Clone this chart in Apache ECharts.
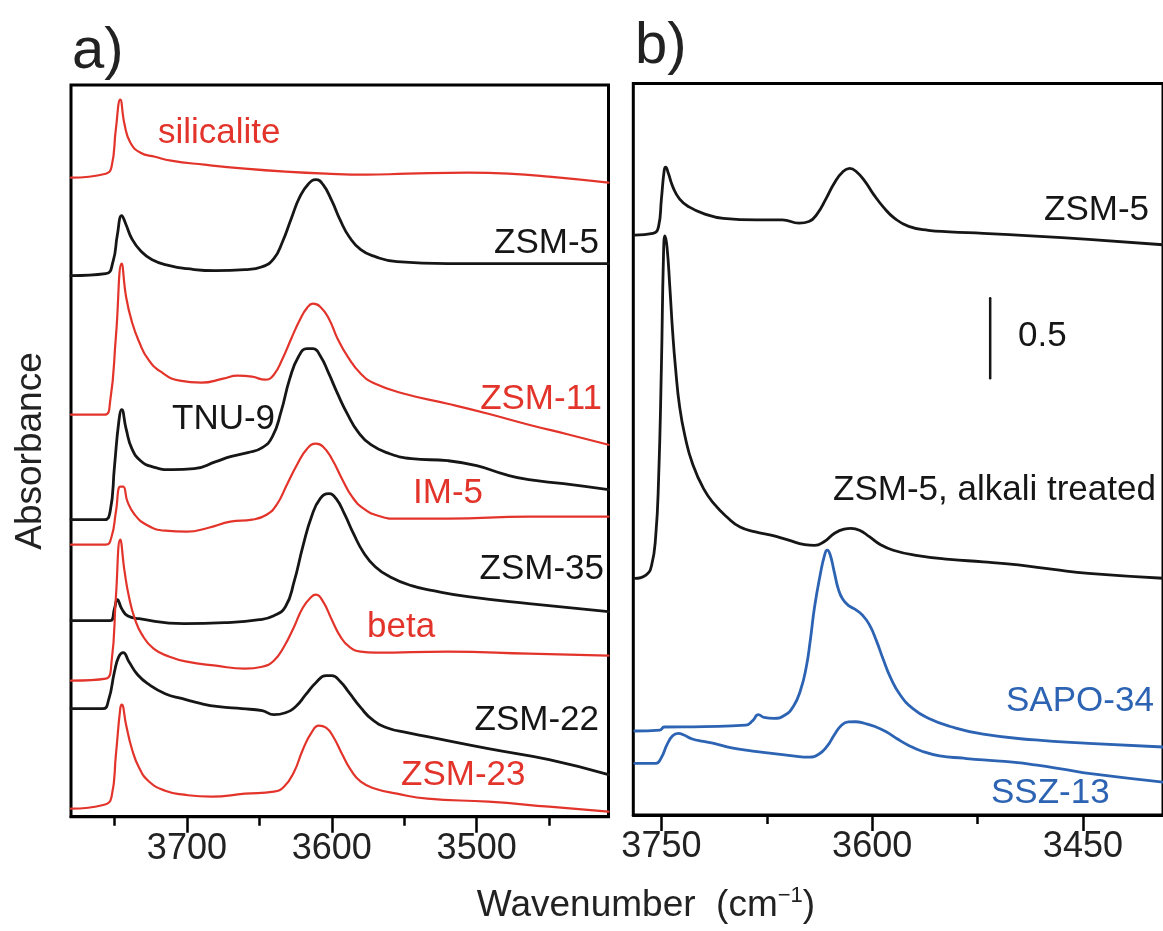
<!DOCTYPE html>
<html><head><meta charset="utf-8">
<script src="https://cdn.jsdelivr.net/npm/echarts@6/dist/echarts.min.js"></script>
<style>html,body{margin:0;padding:0;background:#fff}#c{width:1163px;height:931px}</style>
</head><body><div id="c"></div>
<script>
// ---------- Panel a) data: [wavenumber (cm-1), offset absorbance (a.u.)] ----------
const silicalite = [[3780,6.39],[3756,6.43],[3752,6.50],[3749,6.88],[3746,7.17],[3743,6.92],[3739,6.74],[3732,6.64],[3722,6.60],[3711,6.56],[3688,6.52],[3660,6.48],[3632,6.45],[3604,6.43],[3576,6.42],[3548,6.43],[3506,6.44],[3478,6.43],[3450,6.40],[3409,6.34]];
const zsm5a = [[3780,5.41],[3756,5.43],[3751,5.55],[3748,5.82],[3745,6.01],[3742,5.92],[3738,5.78],[3732,5.66],[3724,5.57],[3712,5.51],[3700,5.48],[3680,5.46],[3660,5.47],[3648,5.50],[3640,5.58],[3634,5.75],[3628,5.98],[3622,6.20],[3616,6.33],[3611,6.37],[3606,6.32],[3600,6.16],[3594,5.96],[3588,5.80],[3580,5.67],[3570,5.60],[3555,5.55],[3520,5.53],[3464,5.53],[3409,5.53]];
const zsm11 = [[3780,4.02],[3757,4.02],[3753,4.15],[3749,4.80],[3745,5.53],[3742,5.20],[3738,4.95],[3733,4.75],[3727,4.58],[3718,4.45],[3705,4.36],[3690,4.34],[3675,4.38],[3665,4.41],[3655,4.40],[3646,4.37],[3640,4.42],[3634,4.58],[3628,4.78],[3622,4.97],[3617,5.09],[3613,5.13],[3608,5.10],[3602,4.98],[3596,4.78],[3589,4.60],[3580,4.43],[3570,4.33],[3550,4.23],[3520,4.13],[3492,4.03],[3464,3.92],[3436,3.82],[3409,3.72]];
const tnu9 = [[3780,2.97],[3757,2.97],[3753,3.05],[3750,3.50],[3747,3.95],[3745,4.07],[3742,3.88],[3738,3.68],[3732,3.56],[3724,3.50],[3710,3.47],[3695,3.48],[3680,3.55],[3670,3.60],[3658,3.64],[3648,3.69],[3641,3.80],[3635,4.05],[3629,4.38],[3623,4.60],[3617,4.68],[3613,4.68],[3608,4.61],[3602,4.43],[3596,4.23],[3589,4.02],[3582,3.85],[3573,3.72],[3560,3.63],[3545,3.58],[3520,3.56],[3500,3.51],[3480,3.42],[3464,3.37],[3440,3.33],[3409,3.27]];
const im5 = [[3780,2.72],[3756,2.72],[3752,2.80],[3749,3.05],[3746,3.30],[3744,3.30],[3741,3.15],[3736,3.02],[3728,2.92],[3715,2.86],[3700,2.85],[3685,2.89],[3670,2.95],[3655,2.97],[3645,3.02],[3638,3.12],[3631,3.32],[3624,3.52],[3617,3.68],[3611,3.73],[3606,3.70],[3600,3.58],[3593,3.38],[3586,3.20],[3578,3.08],[3568,3.01],[3555,2.98],[3520,2.98],[3464,3.00],[3409,3.00]];
const zsm35 = [[3780,1.96],[3753,1.96],[3750,2.08],[3748,2.17],[3745,2.08],[3741,2.01],[3733,1.98],[3702,1.93],[3674,1.94],[3650,1.97],[3640,2.01],[3632,2.10],[3626,2.35],[3620,2.70],[3614,3.00],[3608,3.18],[3602,3.23],[3597,3.18],[3591,3.02],[3585,2.83],[3578,2.64],[3570,2.50],[3560,2.40],[3545,2.31],[3530,2.26],[3506,2.20],[3464,2.13],[3409,2.05]];
const beta = [[3780,1.36],[3756,1.38],[3752,1.55],[3749,2.20],[3746,2.77],[3743,2.45],[3740,2.20],[3736,1.98],[3731,1.82],[3723,1.68],[3712,1.60],[3700,1.55],[3680,1.51],[3660,1.48],[3648,1.50],[3640,1.56],[3633,1.70],[3626,1.90],[3620,2.09],[3614,2.20],[3611,2.22],[3606,2.15],[3600,1.97],[3594,1.80],[3588,1.70],[3580,1.65],[3570,1.64],[3520,1.65],[3464,1.63],[3409,1.61]];
const zsm22 = [[3780,1.08],[3758,1.08],[3754,1.17],[3750,1.45],[3747,1.60],[3744,1.64],[3740,1.55],[3734,1.42],[3726,1.32],[3715,1.23],[3703,1.18],[3690,1.13],[3678,1.10],[3662,1.08],[3648,1.06],[3640,1.02],[3632,1.04],[3625,1.10],[3618,1.22],[3611,1.34],[3604,1.41],[3600,1.41],[3594,1.35],[3588,1.24],[3580,1.09],[3572,0.97],[3562,0.89],[3548,0.84],[3534,0.80],[3492,0.68],[3450,0.57],[3409,0.42]];
const zsm23 = [[3780,0.08],[3757,0.12],[3752,0.20],[3749,0.62],[3746,1.08],[3745,1.12],[3742,0.92],[3738,0.68],[3733,0.49],[3726,0.35],[3715,0.26],[3702,0.22],[3683,0.20],[3660,0.23],[3640,0.25],[3633,0.30],[3626,0.45],[3620,0.67],[3614,0.84],[3609,0.91],[3604,0.89],[3599,0.80],[3593,0.63],[3587,0.47],[3580,0.35],[3570,0.28],[3555,0.23],[3534,0.18],[3492,0.15],[3450,0.10],[3409,0.05]];

// ---------- Panel b) data: [wavenumber (cm-1), offset absorbance] ----------
const zsm5b = [[3769,3.625],[3756,3.636],[3752,3.68],[3750,3.85],[3748,4.03],[3747,4.05],[3745,4.01],[3742,3.93],[3737,3.85],[3730,3.80],[3720,3.76],[3706,3.73],[3682,3.72],[3664,3.72],[3652,3.70],[3645,3.71],[3639,3.76],[3633,3.85],[3627,3.95],[3621,4.02],[3616,4.042],[3611,4.02],[3605,3.96],[3599,3.88],[3592,3.80],[3584,3.73],[3574,3.68],[3560,3.655],[3545,3.646],[3521,3.636],[3484,3.619],[3446,3.598],[3393,3.565]];
const zsm5alkali = [[3769,1.479],[3761,1.50],[3757,1.56],[3754,1.75],[3752,2.10],[3750,2.80],[3748.5,3.50],[3747.5,3.62],[3746,3.55],[3744,3.30],[3742,3.02],[3740,2.80],[3737,2.55],[3733,2.36],[3728,2.20],[3720,2.04],[3712,1.94],[3703,1.86],[3694,1.80],[3683,1.77],[3672,1.75],[3660,1.72],[3648,1.69],[3641,1.685],[3634,1.71],[3627,1.76],[3620,1.787],[3615,1.792],[3609,1.78],[3602,1.74],[3594,1.69],[3585,1.655],[3570,1.625],[3545,1.598],[3521,1.583],[3496,1.563],[3471,1.535],[3446,1.510],[3393,1.480]];
const sapo34 = [[3769,0.525],[3751,0.531],[3748,0.55],[3720,0.553],[3690,0.562],[3685,0.59],[3681,0.628],[3677,0.61],[3670,0.604],[3662,0.625],[3656,0.68],[3651,0.78],[3647,0.92],[3644,1.094],[3641,1.30],[3637,1.50],[3634,1.62],[3632,1.656],[3630,1.63],[3627,1.52],[3624,1.41],[3621,1.35],[3617,1.31],[3612,1.285],[3607,1.25],[3602,1.19],[3597,1.09],[3592,0.97],[3587,0.86],[3580,0.75],[3571,0.665],[3560,0.605],[3545,0.555],[3521,0.505],[3484,0.469],[3446,0.448],[3393,0.425]];
const ssz13 = [[3769,0.323],[3754,0.323],[3750,0.36],[3746,0.44],[3742,0.495],[3738,0.51],[3734,0.50],[3728,0.475],[3720,0.46],[3712,0.446],[3700,0.42],[3685,0.40],[3670,0.384],[3655,0.368],[3645,0.362],[3638,0.38],[3632,0.43],[3627,0.50],[3622,0.56],[3617,0.582],[3612,0.583],[3605,0.572],[3598,0.553],[3590,0.52],[3582,0.475],[3574,0.435],[3565,0.40],[3552,0.37],[3535,0.355],[3521,0.344],[3500,0.33],[3484,0.313],[3460,0.28],[3446,0.260],[3393,0.205]];
// scale bar: 0.5 absorbance
const scaleBar = [[3516,3.231],[3516,2.731]];

// ---------- axes ----------
const ticksA = [3700, 3600, 3500];
const minorA = [3750, 3650, 3550, 3450];
const ticksB = [3750, 3600, 3450];
const minorB = [3675, 3525];
const rangeA = [3409, 3780];
const rangeB = [3393, 3770];

const RED = '#e3342b', BLACK = '#161616', BLUE = '#2d63b3';
const FONT = '"Liberation Sans", Arial, Helvetica, sans-serif';

const chart = echarts.init(document.getElementById('c'), null, {renderer: 'canvas'});

function xMajor(grid, ticks, range) {
  return {
    type: 'value', gridIndex: grid, inverse: true, min: range[0], max: range[1],
    axisLine: {show: true, lineStyle: {color: '#000', width: 3}},
    axisTick: {show: true, inside: false, length: 16, lineStyle: {color: '#000', width: 2.5}, customValues: ticks},
    axisLabel: {show: true, customValues: ticks, fontSize: 36, color: '#222', fontFamily: FONT, margin: 14,
      formatter: function (v) { return String(v); }},
    splitLine: {show: false}
  };
}
function xMinor(grid, ticks, range) {
  return {
    type: 'value', gridIndex: grid, inverse: true, min: range[0], max: range[1], position: 'bottom',
    axisLine: {show: false},
    axisTick: {show: true, inside: false, length: 9, lineStyle: {color: '#000', width: 2.5}, customValues: ticks},
    axisLabel: {show: false},
    splitLine: {show: false}
  };
}
function yAxis(grid, max) {
  return {type: 'value', gridIndex: grid, min: 0, max: max, show: false};
}
function line(name, data, color, xi, yi, w) {
  return {
    name, type: 'line', data, xAxisIndex: xi, yAxisIndex: yi, showSymbol: false, symbol: 'none',
    smooth: 0.5, lineStyle: {color, width: w, join: 'round', cap: 'round'}, silent: true, animation: false
  };
}

function label(text, x, y, color, align) {
  return {type: 'text', x, y, style: {text, fill: color, font: '35px ' + FONT, textAlign: align || 'left', textVerticalAlign: 'middle'}};
}

const option = {
  animation: false,
  grid: [
    {left: 71, top: 85, width: 537.5, height: 731.7, show: true, borderColor: '#000', borderWidth: 3, backgroundColor: 'transparent'},
    {left: 633.3, top: 83.5, width: 547, height: 731.5, show: true, borderColor: '#000', borderWidth: 3, backgroundColor: 'transparent'}
  ],
  xAxis: [xMajor(0, ticksA, rangeA), xMinor(0, minorA, rangeA), xMajor(1, ticksB, rangeB), xMinor(1, minorB, rangeB)],
  yAxis: [yAxis(0, 7.317), yAxis(1, 4.573)],
  series: [
    line('silicalite', silicalite, RED, 0, 0, 2.2),
    line('ZSM-5', zsm5a, BLACK, 0, 0, 2.8),
    line('ZSM-11', zsm11, RED, 0, 0, 2.2),
    line('TNU-9', tnu9, BLACK, 0, 0, 2.8),
    line('IM-5', im5, RED, 0, 0, 2.2),
    line('ZSM-35', zsm35, BLACK, 0, 0, 2.8),
    line('beta', beta, RED, 0, 0, 2.2),
    line('ZSM-22', zsm22, BLACK, 0, 0, 2.8),
    line('ZSM-23', zsm23, RED, 0, 0, 2.2),
    line('ZSM-5 b', zsm5b, BLACK, 2, 1, 2.8),
    line('ZSM-5, alkali treated', zsm5alkali, BLACK, 2, 1, 2.8),
    line('SAPO-34', sapo34, BLUE, 2, 1, 2.8),
    line('SSZ-13', ssz13, BLUE, 2, 1, 2.8),
    Object.assign(line('scale', scaleBar, BLACK, 2, 1, 2.5), {smooth: false})
  ],
  graphic: [
    {type: 'text', x: 72, y: 52, style: {text: 'a)', fill: '#222', font: '58px ' + FONT, textVerticalAlign: 'middle'}},
    {type: 'text', x: 635, y: 47, style: {text: 'b)', fill: '#222', font: '58px ' + FONT, textVerticalAlign: 'middle'}},
    {type: 'text', x: 31, y: 451, rotation: Math.PI / 2, style: {text: 'Absorbance', fill: '#222', font: '37px ' + FONT, textAlign: 'center', textVerticalAlign: 'middle'}},
    {type: 'text', x: 646, y: 906, style: {
      text: '{a|Wavenumber  (cm}{s|−1}{a|)}', textAlign: 'center', textVerticalAlign: 'middle',
      rich: {a: {fontSize: 37, fontFamily: FONT, fill: '#222', color: '#222'}, s: {fontSize: 22, fontFamily: FONT, fill: '#222', color: '#222', padding: [0, 0, 20, 0]}}
    }},
    label('silicalite', 158, 133, RED),
    label('ZSM-5', 599, 243, BLACK, 'right'),
    label('ZSM-11', 602, 399, RED, 'right'),
    label('TNU-9', 172, 419, BLACK),
    label('IM-5', 413, 493, RED),
    label('ZSM-35', 604, 569, BLACK, 'right'),
    label('beta', 367, 627, RED),
    label('ZSM-22', 599, 720, BLACK, 'right'),
    label('ZSM-23', 401, 775, RED),
    label('ZSM-5', 1149, 210, BLACK, 'right'),
    label('0.5', 1018, 336, BLACK),
    label('ZSM-5, alkali treated', 833, 490, BLACK),
    label('SAPO-34', 1006, 701, BLUE),
    label('SSZ-13', 991, 793, BLUE)
  ]
};
chart.setOption(option);
</script></body></html>
